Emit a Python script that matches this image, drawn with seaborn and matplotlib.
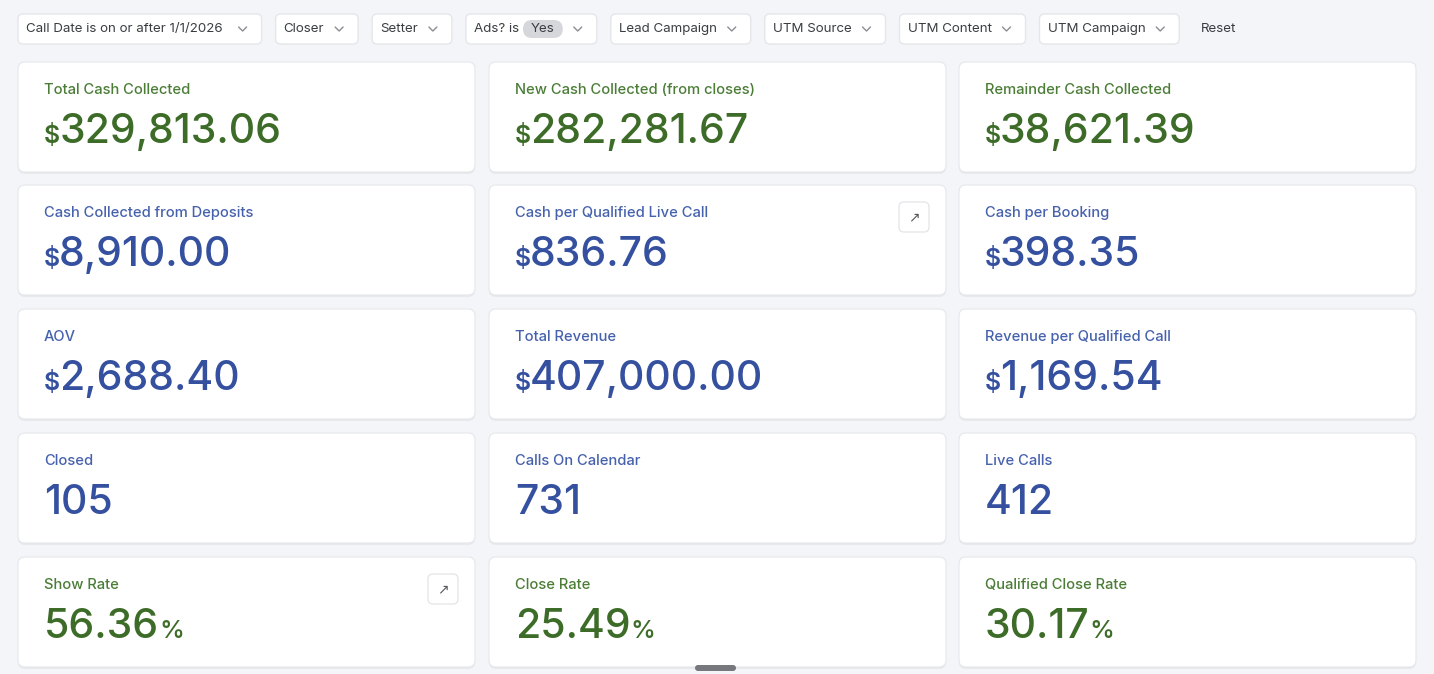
import pandas as pd
import matplotlib.pyplot as plt
from matplotlib.patches import FancyBboxPatch
import seaborn as sns

# KPI data
titles = [
    "Total Cash Collected", "New Cash Collected (from closes)", "Remainder Cash Collected",
    "Cash Collected from Deposits", "Cash per Qualified Live Call", "Cash per Booking",
    "AOV", "Total Revenue", "Revenue per Qualified Call",
    "Closed", "Calls On Calendar", "Live Calls",
    "Show Rate", "Close Rate", "Qualified Close Rate",
]
values = [
    329813.06, 282281.67, 38621.39,
    8910.00, 836.76, 398.35,
    2688.40, 407000.00, 1169.54,
    105, 731, 412,
    56.36, 25.49, 30.17,
]
units = [
    "$", "$", "$",
    "$", "$", "$",
    "$", "$", "$",
    "", "", "",
    "%", "%", "%",
]
tones = [
    "green", "green", "green",
    "blue", "blue", "blue",
    "blue", "blue", "blue",
    "blue", "blue", "blue",
    "green", "green", "green",
]
has_link = [
    False, False, False,
    False, True, False,
    False, False, False,
    False, False, False,
    True, False, False,
]

filter_labels = ["Call Date is on or after 1/1/2026", "Closer", "Setter", "Ads? is",
                 "Lead Campaign", "UTM Source", "UTM Content", "UTM Campaign"]
filter_chip = ["", "", "", "Yes", "", "", "", ""]

cards = pd.DataFrame({"title": titles, "value": values, "unit": units,
                      "tone": tones, "link": has_link})

TITLE_COLORS = {"green": "#4b7d37", "blue": "#4762ad"}
VALUE_COLORS = {"green": "#3d6c28", "blue": "#34509f"}


def fmt_value(v, unit):
    if unit == "$":
        return f"{v:,.2f}"
    if unit == "%":
        return f"{v:.2f}"
    return f"{int(v)}"


def rounded_box(ax, x, y, w, h, r, face, edge, lw=1.0, z=1, alpha=1.0):
    box = FancyBboxPatch((x, y), w, h, boxstyle=f"round,pad=0,rounding_size={r}",
                         facecolor=face, edgecolor=edge, linewidth=lw, zorder=z, alpha=alpha)
    ax.add_patch(box)
    return box


def chevron(ax, cx, cy, color="#8a8d93"):
    ax.plot([cx - 4, cx, cx + 4], [cy - 2, cy + 2, cy - 2], color=color, lw=1.0,
            solid_capstyle="round", zorder=5)


def text_width(fig, t):
    r = fig.canvas.get_renderer()
    return t.get_window_extent(r).width


sns.set_theme(style="white")
plt.rcParams["font.family"] = ["Inter", "DejaVu Sans"]

W, H = 1434, 674
fig = plt.figure(figsize=(W / 100, H / 100), dpi=100)
ax = fig.add_axes([0, 0, 1, 1])
ax.set_xlim(0, W)
ax.set_ylim(H, 0)
ax.axis("off")
fig.patch.set_facecolor("#f4f5f8")

# filter bar
x = 18
for k, (lab, chip) in enumerate(zip(filter_labels, filter_chip)):
    t = ax.text(x + 8, 29, lab, fontsize=9.6, color="#3b3d42", va="center", ha="left", zorder=5)
    fig.canvas.draw()
    tw = text_width(fig, t)
    extra = 0
    if chip:
        cx0 = x + 8 + tw + 4
        ct = ax.text(cx0 + 8, 29, chip, fontsize=9.6, color="#3b3d42", va="center", ha="left", zorder=6)
        cw = text_width(fig, ct)
        rounded_box(ax, cx0, 20, cw + 16, 18, 9, "#d6d7db", "none", z=5)
        extra = cw + 20
    pw = tw + extra + 42
    if k == 0:
        pw += 5  # the date filter reads a touch wider in the original
    rounded_box(ax, x, 14, pw, 30, 5, "white", "#e4e6ea", z=2)
    chevron(ax, x + pw - 19, 29)
    x += pw + 14
ax.text(x + 8, 29, "Reset", fontsize=9.6, color="#3b3d42", va="center", ha="left")

# cards
col_left = [18, 489, 959]
row_top = [62, 185, 309, 433, 557]
cw, ch = 457, 110
for i, row in cards.iterrows():
    left = col_left[i % 3]
    top = row_top[i // 3]
    rounded_box(ax, left, top + 2, cw, ch, 7, "#dfe1e6", "none", z=1, alpha=0.6)
    rounded_box(ax, left, top, cw, ch, 7, "white", "#e5e7eb", lw=0.8, z=2)
    ax.text(left + 26, top + 28, row["title"], fontsize=10.6, fontweight="medium",
            color=TITLE_COLORS[row["tone"]], va="center", ha="left", zorder=4)
    base = top + 81
    vx = left + 26
    vcol = VALUE_COLORS[row["tone"]]
    if row["unit"] == "$":
        s = ax.text(vx, base, "$", fontsize=18, fontweight="semibold", color=vcol,
                    va="baseline", ha="left", zorder=4)
        fig.canvas.draw()
        vx += text_width(fig, s) - 1
    num = ax.text(vx, base, fmt_value(row["value"], row["unit"]), fontsize=29.5,
                  fontweight="medium", color=vcol, va="baseline", ha="left", zorder=4)
    if row["unit"] == "%":
        fig.canvas.draw()
        px = vx + text_width(fig, num)
        ax.text(px, base, "%", fontsize=18, fontweight="medium", color=vcol,
                va="baseline", ha="left", zorder=4)
    if row["link"]:
        bx, by = left + cw - 47, top + 17
        rounded_box(ax, bx, by, 30, 30, 5, "white", "#e2e4e8", lw=0.9, z=3)
        ax.text(bx + 15, by + 15, "\u2197", fontsize=10, color="#55585e", family="DejaVu Sans",
                ha="center", va="center", zorder=4)

# scroll handle
rounded_box(ax, 695, 665, 41, 6, 3, "#76787d", "none", z=6)

fig.savefig("out.png", dpi=100, facecolor=fig.get_facecolor())
